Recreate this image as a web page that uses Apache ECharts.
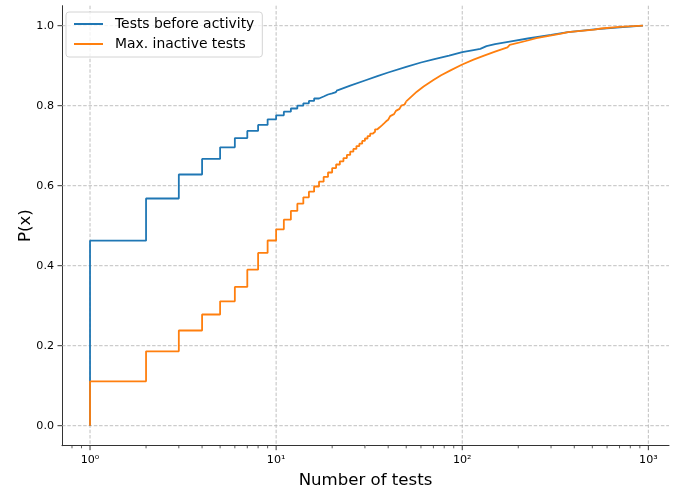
<!DOCTYPE html>
<html>
<head>
<meta charset="utf-8">
<script src="https://cdn.jsdelivr.net/npm/echarts@6/dist/echarts.min.js"></script>
<style>html,body{margin:0;padding:0;background:#fff}#c{width:684px;height:489px}</style>
</head>
<body>
<div id="c"></div>
<script>
// ---- data ----
const seriesNames = ['Tests before activity', 'Max. inactive tests'];
// ECDF values at integer test counts 1..21 (blue) and 1..50 (orange)
const blueSteps = [0.4625, 0.568, 0.628, 0.667, 0.696, 0.719, 0.737, 0.752, 0.766, 0.776,
  0.785, 0.793, 0.800, 0.806, 0.812, 0.818, 0.823, 0.828, 0.831, 0.834, 0.837];
const orangeSteps = [0.111, 0.186, 0.238, 0.278, 0.311, 0.347, 0.390, 0.432, 0.463, 0.491,
  0.515, 0.537, 0.555, 0.571, 0.585, 0.598, 0.610, 0.622, 0.633, 0.644,
  0.653, 0.661, 0.669, 0.677, 0.685, 0.692, 0.699, 0.705, 0.712, 0.718,
  0.724, 0.730, 0.735, 0.741, 0.746, 0.751, 0.756, 0.761, 0.765, 0.770,
  0.774, 0.779, 0.783, 0.787, 0.792, 0.796, 0.800, 0.803, 0.807, 0.811];
// tail of the curves (steps too fine to see)
const blueTailX = [21, 25, 30, 35, 40, 50, 60, 70, 85, 100, 115, 125, 135, 150, 183, 225, 300, 370, 512, 700, 935];
const blueTailY = [0.837, 0.850, 0.863, 0.874, 0.883, 0.897, 0.908, 0.916, 0.925, 0.934, 0.939, 0.942, 0.949, 0.954, 0.961, 0.968, 0.977, 0.984, 0.991, 0.996, 1.0];
const orangeTailX = [50, 57, 62, 70, 77, 87, 100, 115, 131, 150, 175, 180, 225, 250, 340, 370, 512, 557, 700, 935];
const orangeTailY = [0.811, 0.835, 0.848, 0.864, 0.876, 0.889, 0.903, 0.915, 0.925, 0.935, 0.946, 0.952, 0.963, 0.969, 0.980, 0.984, 0.990, 0.993, 0.997, 1.0];
// axis ticks
const xMajorTicks = [1, 10, 100, 1000];
const xMinorTicks = [0.8, 0.9, 2, 3, 4, 5, 6, 7, 8, 9, 20, 30, 40, 50, 60, 70, 80, 90, 200, 300, 400, 500, 600, 700, 800, 900];
const yMajorTicks = [0, 0.2, 0.4, 0.6, 0.8, 1.0];

// ---- build ----
const BLUE = '#1f77b4', ORANGE = '#ff7f0e';
function stepData(vals) {
  const d = [[1, 0]];
  vals.forEach((v, i) => d.push([i + 1, v]));
  return d;
}
function zip(xs, ys) { return xs.map((x, i) => [x, ys[i]]); }
const sup = {'0':'\u2070','1':'\u00b9','2':'\u00b2','3':'\u00b3'};
const Y0 = -0.05, Y1 = 1.05;

function gridX(params, api) {
  const cs = params.coordSys;
  const p = api.coord([api.value(0), Y0]);
  return {type: 'group', children: [
    {type: 'line', shape: {x1: p[0], y1: cs.y, x2: p[0], y2: cs.y + cs.height},
     style: {stroke: '#b0b0b0', lineWidth: 0.8, lineDash: [3.5, 1.8]}},
    {type: 'line', shape: {x1: p[0], y1: cs.y + cs.height, x2: p[0], y2: cs.y + cs.height + 4.5},
     style: {stroke: '#333', lineWidth: 1}}
  ]};
}
function gridY(params, api) {
  const cs = params.coordSys;
  const p = api.coord([1, api.value(1)]);
  return {type: 'group', children: [
    {type: 'line', shape: {x1: cs.x, y1: p[1], x2: cs.x + cs.width, y2: p[1]},
     style: {stroke: '#b0b0b0', lineWidth: 0.8, lineDash: [3.5, 1.8]}},
    {type: 'line', shape: {x1: cs.x - 4.5, y1: p[1], x2: cs.x, y2: p[1]},
     style: {stroke: '#333', lineWidth: 1}}
  ]};
}
function minorX(params, api) {
  const cs = params.coordSys;
  const p = api.coord([api.value(0), Y0]);
  return {type: 'line', shape: {x1: p[0], y1: cs.y + cs.height, x2: p[0], y2: cs.y + cs.height + 2.6},
    style: {stroke: '#333', lineWidth: 0.8}};
}
function isMajorY(v) {
  return yMajorTicks.some(t => Math.abs(t - v) < 1e-6);
}

const chart = echarts.init(document.getElementById('c'), null, {renderer: 'canvas'});
chart.setOption({
  animation: false,
  grid: {left: 62, right: 15, top: 5.7, bottom: 43.3, containLabel: false, outerBoundsMode: 'none'},
  legend: {
    data: seriesNames, orient: 'vertical', left: 66, top: 12,
    icon: 'rect', itemWidth: 29, itemHeight: 2, itemGap: 4,
    padding: [4, 8, 5, 8],
    backgroundColor: 'rgba(255,255,255,0.8)', borderColor: '#d4d4d4', borderWidth: 1, borderRadius: 3,
    textStyle: {fontFamily: 'DejaVu Sans', fontSize: 13.9, lineHeight: 16, color: '#000', padding: [0, 0, 0, 7]}
  },
  xAxis: {
    type: 'log', logBase: 10, min: 0.707, max: 1291,
    name: 'Number of tests', nameLocation: 'middle', nameGap: 26, nameMoveOverlap: false,
    nameTextStyle: {fontFamily: 'DejaVu Sans', fontSize: 16.6, color: '#000'},
    axisLine: {show: true, onZero: false, lineStyle: {color: '#333', width: 1}},
    axisTick: {show: false}, splitLine: {show: false}, minorTick: {show: false},
    axisLabel: {
      showMinLabel: false, showMaxLabel: false, margin: 9,
      fontFamily: 'DejaVu Sans', fontSize: 11.1, color: '#000',
      formatter: v => '10' + sup[String(Math.round(Math.log10(v)))]
    }
  },
  yAxis: {
    type: 'value', min: Y0, max: Y1, interval: 0.05,
    name: 'P(x)', nameLocation: 'middle', nameGap: 28, nameRotate: 90, nameMoveOverlap: false,
    nameTextStyle: {fontFamily: 'DejaVu Sans', fontSize: 16.6, color: '#000'},
    axisLine: {show: true, onZero: false, lineStyle: {color: '#333', width: 1}},
    axisTick: {show: false}, splitLine: {show: false},
    axisLabel: {
      showMinLabel: false, showMaxLabel: false, margin: 8,
      fontFamily: 'DejaVu Sans', fontSize: 11.1, color: '#000',
      formatter: v => isMajorY(v) ? Math.abs(v).toFixed(1) : ''
    }
  },
  series: [
    {type: 'custom', name: 'xgrid', renderItem: gridX, data: xMajorTicks.map(v => [v, 0]), z: 1, silent: true, clip: false},
    {type: 'custom', name: 'ygrid', renderItem: gridY, data: yMajorTicks.map(v => [1, v]), z: 1, silent: true, clip: false},
    {type: 'custom', name: 'xminor', renderItem: minorX, data: xMinorTicks.map(v => [v, 0]), z: 1, silent: true, clip: false},
    {type: 'line', name: seriesNames[0], step: 'end', data: stepData(blueSteps), showSymbol: false, symbol: 'none',
     lineStyle: {color: BLUE, width: 1.8}, itemStyle: {color: BLUE}, z: 3},
    {type: 'line', name: seriesNames[0], data: zip(blueTailX, blueTailY), showSymbol: false, symbol: 'none', smooth: false,
     lineStyle: {color: BLUE, width: 1.8}, itemStyle: {color: BLUE}, z: 3},
    {type: 'line', name: seriesNames[1], step: 'end', data: stepData(orangeSteps), showSymbol: false, symbol: 'none',
     lineStyle: {color: ORANGE, width: 1.8}, itemStyle: {color: ORANGE}, z: 4},
    {type: 'line', name: seriesNames[1], data: zip(orangeTailX, orangeTailY), showSymbol: false, symbol: 'none', smooth: false,
     lineStyle: {color: ORANGE, width: 1.8}, itemStyle: {color: ORANGE}, z: 4}
  ]
});
</script>
</body>
</html>
